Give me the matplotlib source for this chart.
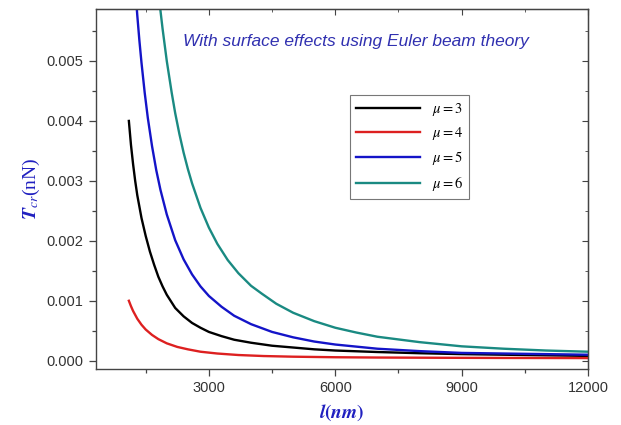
import matplotlib
matplotlib.use("Agg")
import matplotlib.pyplot as plt
from matplotlib.ticker import MultipleLocator

plt.rcParams['mathtext.fontset'] = 'stix'

# ---- data ----
l_mu3 = [1100, 1150, 1200, 1250, 1300, 1400, 1500, 1600, 1700, 1800, 1900, 2000,
         2200, 2400, 2600, 2800, 3000, 3300, 3600, 4000, 4500, 5000, 5500, 6000,
         7000, 8000, 9000, 10000, 11000, 12000]
T_mu3 = [0.00400, 0.00360, 0.00328, 0.00300, 0.00276, 0.00238, 0.00208, 0.00182,
         0.00160, 0.00140, 0.00124, 0.00110, 0.00088, 0.00074, 0.00063, 0.00055,
         0.00048, 0.00041, 0.00035, 0.00030, 0.00025, 0.00022, 0.00019, 0.00017,
         0.000145, 0.000125, 0.00011, 0.00010, 0.00009, 0.00008]

l_mu4 = [1100, 1150, 1200, 1300, 1400, 1500, 1650, 1800, 2000, 2250, 2500, 2800,
         3200, 3700, 4300, 5000, 6000, 7000, 8500, 10000, 12000]
T_mu4 = [0.00100, 0.00091, 0.00083, 0.00070, 0.00060, 0.00052, 0.00043, 0.00036,
         0.00029, 0.00023, 0.00019, 0.00015, 0.00012, 0.000095, 0.000078, 0.000067,
         0.000058, 0.000053, 0.000049, 0.000046, 0.000044]

l_mu5 = [1200, 1250, 1300, 1350, 1400, 1476, 1550, 1650, 1750, 1850, 2000, 2200,
         2400, 2600, 2800, 3000, 3300, 3600, 4000, 4500, 5000, 5500, 6000, 7000,
         8000, 9000, 10000, 11000, 12000]
T_mu5 = [0.00676, 0.00623, 0.00576, 0.00534, 0.00497, 0.00447, 0.00405, 0.00358,
         0.00318, 0.00285, 0.00244, 0.00201, 0.00169, 0.00144, 0.00124, 0.00108,
         0.00090, 0.00075, 0.00061, 0.00048, 0.00039, 0.00032, 0.00027, 0.00020,
         0.00016, 0.00013, 0.00012, 0.00011, 0.00010]

l_mu6 = [1700, 1750, 1800, 1850, 1900, 2000, 2117, 2200, 2300, 2400, 2500, 2600,
         2800, 3000, 3200, 3446, 3700, 4000, 4253, 4600, 5000, 5500, 6000, 6500,
         7000, 8000, 9000, 10000, 11000, 12000]
T_mu6 = [0.00692, 0.00653, 0.00617, 0.00584, 0.00554, 0.00500, 0.00447, 0.00413,
         0.00378, 0.00347, 0.00320, 0.00296, 0.00255, 0.00222, 0.00195, 0.00168,
         0.00146, 0.00125, 0.00112, 0.00095, 0.00080, 0.00066, 0.00055, 0.00047,
         0.00040, 0.00031, 0.00024, 0.00020, 0.00017, 0.00015]

series_labels = [r'$\mu=3$', r'$\mu=4$', r'$\mu=5$', r'$\mu=6$']
x_ticks = [3000, 6000, 9000, 12000]
y_ticks = [0.000, 0.001, 0.002, 0.003, 0.004, 0.005]
title_text = 'With surface effects using Euler beam theory'

# ---- figure ----
fig = plt.figure(figsize=(6.21, 4.25), dpi=100)
ax = fig.add_axes([0.1546, 0.1318, 0.7923, 0.846])

colors = ['#000000', '#dd2020', '#1414c8', '#1a8a82']
for lx, ty, c, lab in zip([l_mu3, l_mu4, l_mu5, l_mu6],
                          [T_mu3, T_mu4, T_mu5, T_mu6], colors, series_labels):
    ax.plot(lx, ty, color=c, lw=1.7, label=lab)

ax.set_xlim(320, 12000)
ax.set_ylim(-0.000138, 0.00586)
ax.set_xticks(x_ticks)
ax.set_yticks(y_ticks)
ax.set_yticklabels([f'{v:.3f}' for v in y_ticks])
ax.xaxis.set_minor_locator(MultipleLocator(1500))
ax.yaxis.set_minor_locator(MultipleLocator(0.0005))

ax.tick_params(axis='both', which='major', direction='out', length=5, width=0.9,
               labelsize=10.5, labelcolor='#333333', colors='#444444', pad=4)
ax.tick_params(axis='both', which='minor', direction='out', length=3, width=0.9,
               colors='#444444')
for s in ax.spines.values():
    s.set_color('#444444')
    s.set_linewidth(1.0)

# top / right inward ticks (Origin style)
axt = ax.secondary_xaxis('top')
axt.set_xticks(x_ticks)
axt.xaxis.set_minor_locator(MultipleLocator(1500))
axt.tick_params(which='both', direction='in', labeltop=False, colors='#444444')
axt.tick_params(which='major', length=4)
axt.tick_params(which='minor', length=2.5)
axr = ax.secondary_yaxis('right')
axr.set_yticks(y_ticks)
axr.yaxis.set_minor_locator(MultipleLocator(0.0005))
axr.tick_params(which='both', direction='in', labelright=False, colors='#444444')
axr.tick_params(which='major', length=4)
axr.tick_params(which='minor', length=2.5)

for lab in ax.get_xticklabels() + ax.get_yticklabels():
    lab.set_family('Liberation Sans')

ax.text(0.528, 0.912, title_text, transform=ax.transAxes, ha='center', va='center',
        fontsize=12.5, style='italic', color='#3030b0', family='Liberation Sans')

ax.set_xlabel(r'$\boldsymbol{l}$' + r'$\boldsymbol{(nm)}$', color='#2020c0', fontsize=14,
              labelpad=5)
ax.set_ylabel(r'$\boldsymbol{T}_{cr}$' + '(nN)', color='#2020c0', fontsize=14,
              family='Liberation Serif', labelpad=3)

leg = ax.legend(loc='upper left', bbox_to_anchor=(0.516, 0.762), frameon=True,
                fancybox=False, edgecolor='#555555', fontsize=10.5,
                handlelength=4.4, labelspacing=0.5, borderpad=0.4,
                borderaxespad=0.0, handletextpad=0.8)
leg.get_frame().set_linewidth(0.8)

fig.savefig('out.png', dpi=100)
